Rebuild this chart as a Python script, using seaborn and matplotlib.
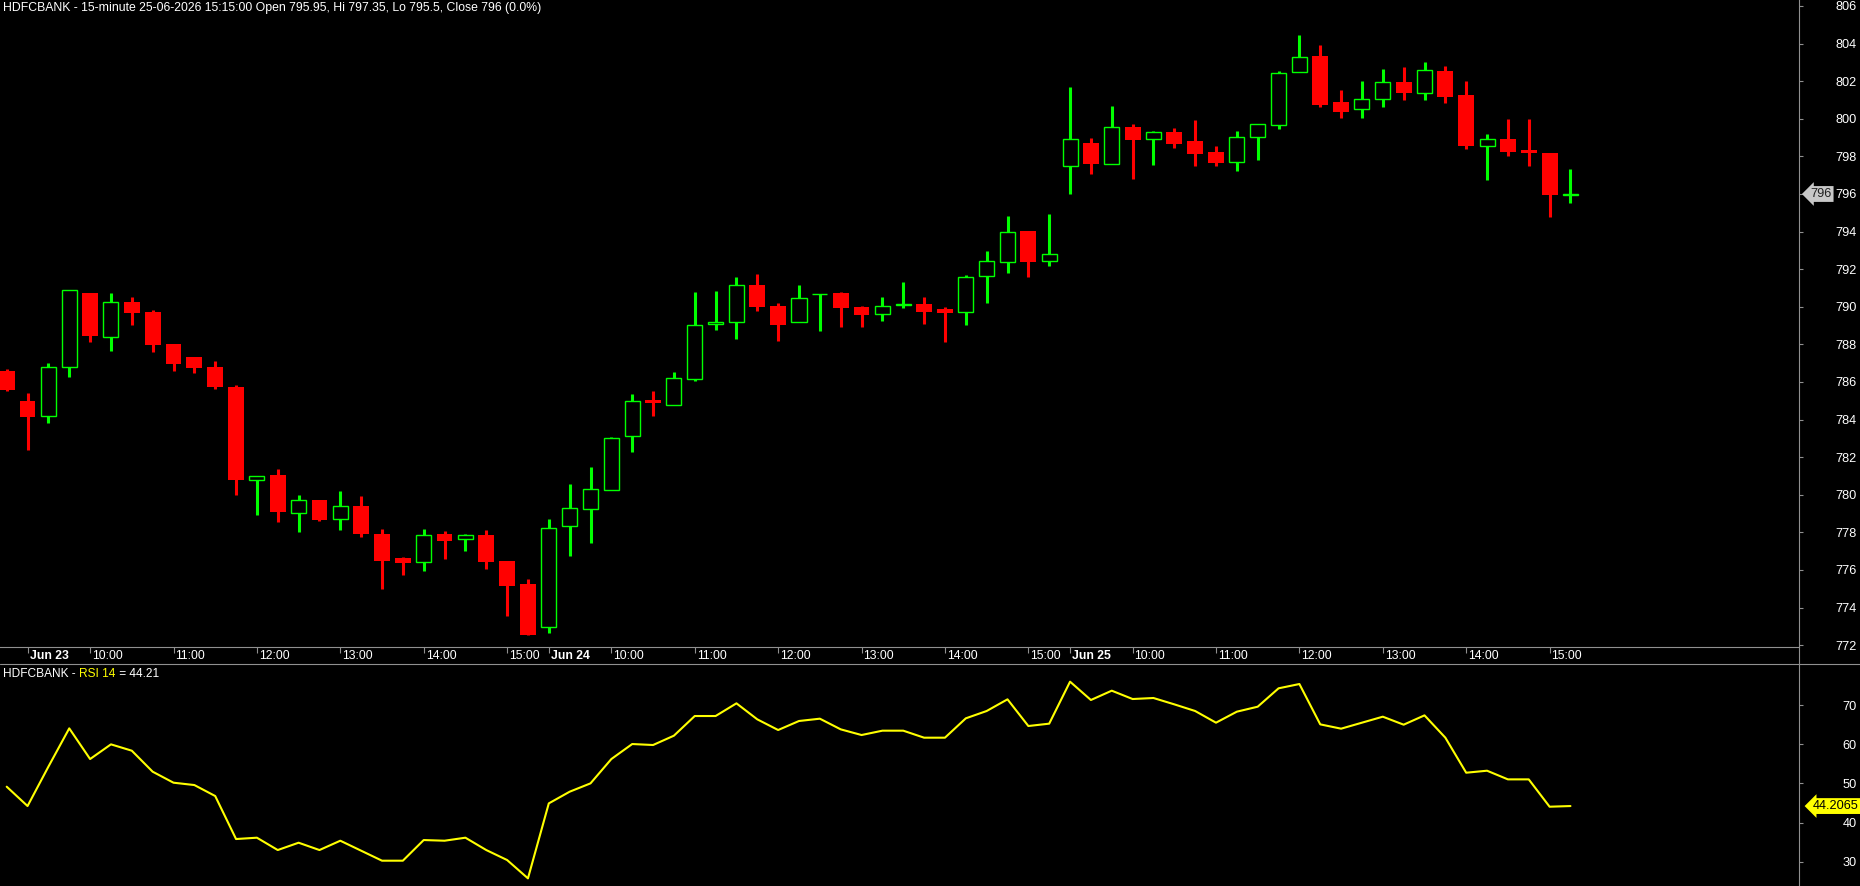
import numpy as np
import pandas as pd
import matplotlib
matplotlib.use("Agg")
import matplotlib.pyplot as plt
import matplotlib.transforms as mtransforms
from matplotlib.lines import Line2D
import seaborn as sns

# ---------------- data ----------------
symbol = "HDFCBANK"
interval = "15-minute"
rsi_period = 14

opens = [786.58, 784.99, 784.21, 786.82, 790.73, 788.41, 790.26, 789.72, 788.02, 787.33,
         786.80, 785.73, 780.77, 781.05, 779.05, 779.72, 778.69, 779.40, 777.91, 776.62,
         776.44, 777.91, 777.63, 777.86, 776.48, 775.26, 772.95, 778.36, 779.23, 780.24,
         783.11, 785.04, 784.79, 786.18, 789.07, 789.17, 791.16, 790.04, 789.21, 790.66,
         790.73, 789.99, 789.60, 790.08, 790.15, 789.88, 789.74, 791.62, 792.37, 794.03,
         792.42, 797.47, 798.71, 797.61, 799.56, 798.91, 799.30, 798.82, 798.23, 797.68,
         799.02, 799.65, 802.51, 803.34, 800.89, 800.50, 801.07, 801.96, 801.35, 802.54,
         801.27, 798.54, 798.93, 798.34, 798.18, 795.95]
highs = [786.67, 785.41, 787.01, 790.90, 790.75, 790.73, 790.52, 789.83, 788.03, 787.35,
         787.12, 785.84, 780.98, 781.37, 779.99, 779.72, 780.20, 779.94, 778.18, 776.67,
         778.18, 778.07, 777.91, 778.13, 776.48, 775.52, 778.71, 780.57, 781.48, 783.06,
         785.36, 785.52, 786.53, 790.79, 790.84, 791.58, 791.74, 790.20, 791.16, 790.68,
         790.79, 790.04, 790.52, 791.32, 790.52, 789.99, 791.69, 792.97, 794.83, 794.03,
         794.94, 801.69, 798.98, 800.68, 799.72, 799.35, 799.51, 799.94, 798.55, 799.35,
         799.71, 802.54, 804.46, 803.93, 801.53, 802.01, 802.65, 802.76, 803.02, 802.81,
         802.01, 799.19, 799.99, 799.99, 798.18, 797.35]
lows = [785.52, 782.38, 783.84, 786.27, 788.15, 787.67, 789.03, 787.61, 786.58, 786.48,
        785.63, 779.99, 778.93, 778.57, 778.04, 778.62, 778.15, 777.77, 774.99, 775.75,
        775.96, 776.58, 777.01, 776.05, 773.57, 772.54, 772.67, 776.76, 777.45, 780.24,
        782.29, 784.21, 784.79, 786.07, 788.77, 788.29, 789.78, 788.18, 789.21, 788.73,
        788.93, 788.93, 789.24, 789.95, 789.10, 788.15, 789.05, 790.22, 791.82, 791.60,
        792.19, 796.02, 797.08, 797.61, 796.80, 797.54, 798.45, 797.51, 797.51, 797.24,
        797.83, 799.47, 802.51, 800.65, 800.06, 800.06, 800.65, 801.00, 801.00, 800.84,
        798.39, 796.75, 798.04, 797.51, 794.79, 795.50]
closes = [785.59, 784.16, 786.78, 790.88, 788.46, 790.24, 789.69, 787.99, 786.97, 786.76,
          785.73, 780.80, 780.98, 779.10, 779.72, 778.68, 779.39, 777.93, 776.50, 776.39,
          777.84, 777.56, 777.84, 776.44, 775.17, 772.54, 778.22, 779.28, 780.29, 783.00,
          784.97, 784.87, 786.19, 789.01, 789.17, 791.14, 790.01, 789.05, 790.45, 790.68,
          789.95, 789.56, 790.04, 790.13, 789.74, 789.65, 791.57, 792.42, 793.96, 792.40,
          792.79, 798.91, 797.61, 799.55, 798.89, 799.28, 798.68, 798.15, 797.67, 799.02,
          799.71, 802.42, 803.27, 800.73, 800.38, 801.03, 801.94, 801.39, 802.58, 801.17,
          798.57, 798.91, 798.26, 798.16, 795.97, 796.00]
rsi = [49.15, 44.21, 54.26, 64.04, 56.21, 59.96, 58.34, 52.98, 50.17, 49.57,
       46.77, 35.79, 36.13, 32.98, 34.85, 32.98, 35.36, 32.81, 30.26, 30.26,
       35.53, 35.36, 36.13, 32.98, 30.43, 25.75, 44.89, 47.87, 50.00, 56.21,
       60.04, 59.79, 62.17, 67.19, 67.19, 70.43, 66.34, 63.62, 65.92, 66.51,
       63.79, 62.34, 63.45, 63.45, 61.66, 61.66, 66.60, 68.47, 71.45, 64.64,
       65.24, 75.96, 71.28, 73.66, 71.53, 71.79, 70.17, 68.47, 65.49, 68.30,
       69.57, 74.26, 75.36, 65.06, 63.96, 65.49, 67.02, 64.98, 67.36, 61.66,
       52.72, 53.23, 51.02, 51.02, 44.04, 44.21]
rsi_last = 44.2065
price_ticks = list(range(772, 807, 2))
rsi_ticks = [30, 40, 50, 60, 70]

first_bar = "2026-06-22 15:15"
sessions = ["2026-06-23", "2026-06-24", "2026-06-25"]
times = [pd.Timestamp(first_bar)]
for d in sessions:
    times += list(pd.date_range(f"{d} 09:15", f"{d} 15:15", freq="15min"))

# ---------------- style ----------------
W, H, DPI = 1860, 886, 100
sns.set_theme(style="dark", rc={"axes.facecolor": "black", "figure.facecolor": "black",
                                "savefig.facecolor": "black", "axes.grid": False})
plt.rcParams["font.family"] = ["Liberation Sans", "DejaVu Sans"]
GRAY = "#909090"
GREEN = "#00ff00"
RED = "#ff0000"
YELLOW = "#ffff00"
FS_Y = 9.2
FS_X = 8.8
FS_T = 8.8

fig = plt.figure(figsize=(W / DPI, H / DPI), dpi=DPI)
ax = fig.add_axes([0, 239 / H, 1799 / W, 647 / H])
ax2 = fig.add_axes([0, 0, 1799 / W, 222 / H])

O = np.array(opens); Hh = np.array(highs); L = np.array(lows); C = np.array(closes)
idx = np.arange(len(O))
up = C >= O

# wicks
ax.vlines(idx[~up], L[~up], Hh[~up], colors=RED, linewidth=2.2, zorder=1)
ax.vlines(idx[up], L[up], Hh[up], colors=GREEN, linewidth=2.2, zorder=1)
# bodies
ax.bar(idx[~up], (O - C)[~up], bottom=C[~up], width=0.76, color=RED, linewidth=0, zorder=2)
ax.bar(idx[up], (C - O)[up], bottom=O[up], width=0.72, facecolor="black",
       edgecolor=GREEN, linewidth=1.0, zorder=2)

xlim = (-6.7 / 20.85, (1799 - 6.7) / 20.85)
ax.set_xlim(*xlim)
ax.set_ylim(771.904, 806.319)

for a in (ax, ax2):
    for s in ("top", "left"):
        a.spines[s].set_visible(False)
    a.spines["right"].set_color(GRAY)
    a.spines["right"].set_linewidth(0.8)
    a.yaxis.tick_right()
    a.tick_params(axis="y", direction="out", length=3, width=0.8, color=GRAY,
                  labelcolor="white", labelsize=FS_Y, pad=38.5, right=True, left=False)
ax.spines["bottom"].set_color(GRAY)
ax.spines["bottom"].set_linewidth(0.8)
ax2.spines["bottom"].set_visible(False)

ax.set_yticks(price_ticks, labels=[str(t) for t in price_ticks])
for lbl in ax.get_yticklabels():
    lbl.set_horizontalalignment("right")

# x ticks
tick_pos, tick_txt, tick_bold = [], [], []
for i, t in enumerate(times):
    if t.hour == 9 and t.minute == 15:
        tick_pos.append(i); tick_txt.append(t.strftime("%b %d").replace(" 0", " ")); tick_bold.append(True)
    elif t.minute == 0 and t.hour >= 10:
        tick_pos.append(i); tick_txt.append(t.strftime("%H:%M")); tick_bold.append(False)
ax.set_xticks(tick_pos, labels=[""] * len(tick_pos))
ax.tick_params(axis="x", direction="out", length=4, width=0.8, color=GRAY, bottom=True)
trans = mtransforms.blended_transform_factory(ax.transData, ax.transAxes)
trans = mtransforms.offset_copy(trans, fig=fig, x=2, y=0, units="dots")
for p, s, b in zip(tick_pos, tick_txt, tick_bold):
    ax.text(p, -11.7 / 647, s, transform=trans, color="white", fontsize=FS_X,
            fontweight="bold" if b else "normal", ha="left", va="baseline")

# RSI panel
sns.lineplot(x=idx, y=np.array(rsi), ax=ax2, color=YELLOW, linewidth=1.5)
ax2.set_xlim(*xlim)
ax2.set_ylim(23.8, 80.47)
ax2.set_xticks([])
ax2.set_xlabel(""); ax2.set_ylabel("")
ax2.set_yticks(rsi_ticks, labels=[str(t) for t in rsi_ticks])
for lbl in ax2.get_yticklabels():
    lbl.set_horizontalalignment("right")

# separators
fig.add_artist(Line2D([0, 1], [222 / H, 222 / H], transform=fig.transFigure, color=GRAY, lw=0.8))
fig.add_artist(Line2D([1799 / W, 1799 / W], [222 / H, 239 / H], transform=fig.transFigure,
                      color=GRAY, lw=0.8))

# last value markers
tp = mtransforms.blended_transform_factory(fig.transFigure, ax.transData)
ax.text(1821 / W, closes[-1], f"{closes[-1]:g}", transform=tp, color="#202020", fontsize=FS_Y,
        ha="center", va="center", clip_on=False,
        bbox=dict(boxstyle="larrow,pad=0.15", fc="#c8c8c8", ec="none"))
tr = mtransforms.blended_transform_factory(fig.transFigure, ax2.transData)
ax2.text(1836 / W, rsi_last, f"{rsi_last:g}", transform=tr, color="black", fontsize=FS_Y,
         ha="center", va="center", clip_on=False,
         bbox=dict(boxstyle="larrow,pad=0.15", fc=YELLOW, ec="none"))

# header
last = times[-1]
chg = (closes[-1] - closes[-2]) / closes[-2] * 100
header = (f"{symbol} - {interval} {last.strftime('%d-%m-%Y %H:%M:%S')} "
          f"Open {opens[-1]:g}, Hi {highs[-1]:g}, Lo {lows[-1]:g}, Close {closes[-1]:g} ({chg:.1f}%)")
fig.text(3 / W, 1 - 10.7 / H, header, color="white", fontsize=FS_T, ha="left", va="baseline")

t1 = fig.text(3.3 / W, 1 - 677.3 / H, f"{symbol} - ", color="white", fontsize=8.6,
              ha="left", va="baseline")
t2 = fig.text(0, 0, f"RSI {rsi_period}", color=YELLOW, fontsize=8.6, ha="left", va="baseline")
t3 = fig.text(0, 0, f" = {rsi_last:.2f}", color="white", fontsize=8.6, ha="left", va="baseline")
fig.canvas.draw()
r = fig.canvas.get_renderer()
bb1 = t1.get_window_extent(r)
t2.set_position((bb1.x1 / W, 1 - 677.3 / H))
fig.canvas.draw()
bb2 = t2.get_window_extent(r)
t3.set_position((bb2.x1 / W, 1 - 677.3 / H))

fig.savefig("out.png", dpi=DPI, facecolor="black")
